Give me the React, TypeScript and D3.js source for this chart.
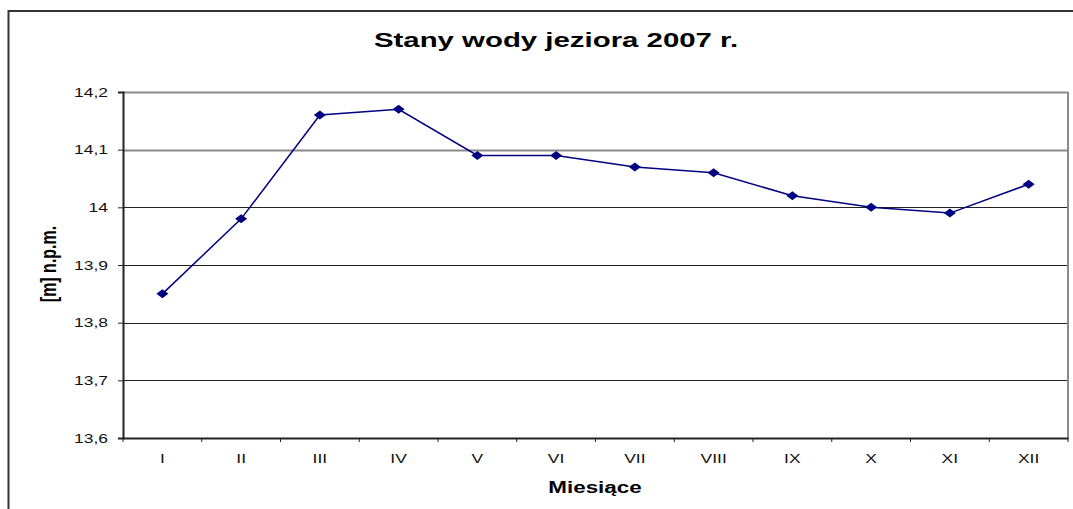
import React, { useEffect, useRef } from 'react';
import * as d3 from 'd3';

// Monthly lake levels, 2007
const months = ['I', 'II', 'III', 'IV', 'V', 'VI', 'VII', 'VIII', 'IX', 'X', 'XI', 'XII'];
const levels = [13.85, 13.98, 14.16, 14.17, 14.09, 14.09, 14.07, 14.06, 14.02, 14.0, 13.99, 14.04];
const yTicks = [13.6, 13.7, 13.8, 13.9, 14.0, 14.1, 14.2];

const App = () => {
  const svgRef = useRef<SVGSVGElement>(null);

  useEffect(() => {
    if (!svgRef.current) return;

    const W = 1073;
    const H = 509;
    const plot = { left: 123, top: 92, right: 1068, bottom: 438 };
    const stretch = 1.4; // text in the picture is widened horizontally
    const font = '"Liberation Sans", Arial, sans-serif';

    const svg = d3.select(svgRef.current);
    svg.selectAll('*').remove();
    svg.attr('width', W).attr('height', H);

    svg.append('rect').attr('width', W).attr('height', H).attr('fill', '#fff');

    // outer chart frame
    svg.append('rect')
      .attr('x', 8.5).attr('y', 11)
      .attr('width', 1200).attr('height', 700)
      .attr('fill', 'none').attr('stroke', '#333').attr('stroke-width', 2);

    const x = d3.scaleBand().domain(months).range([plot.left, plot.right]).padding(0);
    const y = d3.scaleLinear().domain([13.6, 14.2]).range([plot.bottom, plot.top]);

    // horizontal gridlines
    svg.append('g')
      .selectAll('line')
      .data(yTicks.filter(d => d > 13.6))
      .enter()
      .append('line')
      .attr('x1', plot.left).attr('x2', plot.right)
      .attr('y1', d => Math.round(y(d)) + 0.5).attr('y2', d => Math.round(y(d)) + 0.5)
      .attr('stroke', d => (d >= 14.1 ? '#8a8a8a' : '#222'))
      .attr('stroke-width', d => (d >= 14.1 ? 2 : 1));

    // right border of plot area
    svg.append('line')
      .attr('x1', plot.right).attr('x2', plot.right)
      .attr('y1', plot.top).attr('y2', plot.bottom)
      .attr('stroke', '#8a8a8a').attr('stroke-width', 2);

    // y axis
    const yAxis = svg.append('g')
      .attr('transform', `translate(${plot.left},0)`)
      .call(d3.axisLeft(y).tickValues(yTicks).tickSize(5).tickPadding(0).tickFormat(() => ''));
    yAxis.select('.domain').attr('stroke', '#222').attr('stroke-width', 2);
    yAxis.selectAll('.tick line').attr('stroke', '#222');

    svg.append('g')
      .selectAll('text')
      .data(yTicks)
      .enter()
      .append('text')
      .attr('transform', d => `translate(108,${y(d)}) scale(${stretch},1)`)
      .attr('text-anchor', 'end')
      .attr('dy', '0.36em')
      .style('font-family', font)
      .style('font-size', '12.5px')
      .attr('fill', '#111')
      .text(d => d3.format('.1f')(d).replace('.0', '').replace('.', ','));

    // x axis with ticks at category boundaries
    const xAxis = svg.append('g')
      .attr('transform', `translate(0,${plot.bottom})`)
      .call(d3.axisBottom(x).tickSize(0).tickFormat(() => ''));
    xAxis.select('.domain').attr('stroke', '#222').attr('stroke-width', 2);

    svg.append('g')
      .selectAll('line')
      .data(d3.range(months.length + 1))
      .enter()
      .append('line')
      .attr('x1', i => plot.left + i * x.step()).attr('x2', i => plot.left + i * x.step())
      .attr('y1', plot.bottom).attr('y2', plot.bottom + 4)
      .attr('stroke', '#222');

    svg.append('g')
      .selectAll('text')
      .data(months)
      .enter()
      .append('text')
      .attr('transform', d => `translate(${x(d)! + x.bandwidth() / 2},463) scale(${stretch},1)`)
      .attr('text-anchor', 'middle')
      .style('font-family', font)
      .style('font-size', '12.5px')
      .attr('fill', '#111')
      .text(d => d);

    // line + diamond markers
    const cx = (i: number) => x(months[i])! + x.bandwidth() / 2;
    const line = d3.line<number>()
      .x((_, i) => cx(i))
      .y(d => y(d));

    svg.append('path')
      .datum(levels)
      .attr('d', line)
      .attr('fill', 'none')
      .attr('stroke', '#000080')
      .attr('stroke-width', 1.5);

    svg.append('g')
      .selectAll('path')
      .data(levels)
      .enter()
      .append('path')
      .attr('transform', (d, i) => `translate(${cx(i)},${y(d)})`)
      .attr('d', 'M-6,0L0,-4.5L6,0L0,4.5Z')
      .attr('fill', '#000080');

    // titles
    svg.append('text')
      .attr('transform', `translate(556,47) scale(${stretch},1)`)
      .attr('text-anchor', 'middle')
      .style('font-family', font)
      .style('font-size', '21px')
      .style('font-weight', 'bold')
      .attr('fill', '#000')
      .text('Stany wody jeziora 2007 r.');

    svg.append('text')
      .attr('transform', `translate(595,493) scale(${stretch},1)`)
      .attr('text-anchor', 'middle')
      .style('font-family', font)
      .style('font-size', '16px')
      .style('font-weight', 'bold')
      .attr('fill', '#000')
      .text('Miesiące');

    svg.append('text')
      .attr('transform', `translate(48,264) scale(${stretch},1) rotate(-90)`)
      .attr('text-anchor', 'middle')
      .attr('dy', '0.35em')
      .style('font-family', font)
      .style('font-size', '16px')
      .style('font-weight', 'bold')
      .attr('fill', '#000')
      .text('[m] n.p.m.');
  }, []);

  return <svg ref={svgRef} style={{ position: 'absolute', left: 0, top: 0, display: 'block' }}></svg>;
};

export default App;
